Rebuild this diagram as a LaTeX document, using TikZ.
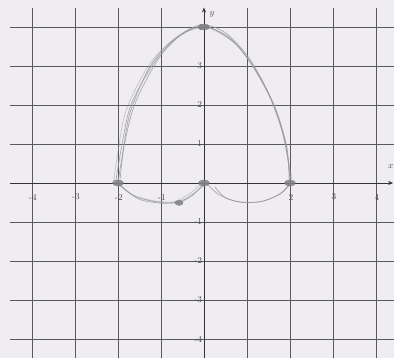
\documentclass[tikz,border=0pt]{standalone}
\usetikzlibrary{arrows.meta,shapes.geometric}
\definecolor{paper}{RGB}{239,237,241}
\begin{document}
\begin{tikzpicture}[x=43pt,y=39pt,
  gridline/.style={draw=black!65,line width=0.7pt},
  axisline/.style={draw=black!80,line width=0.9pt,-{Stealth[length=5pt,width=4pt]}},
  sketch/.style={draw=black!40,line width=0.7pt,opacity=0.8},
  blob/.style={ellipse,fill=black!50,draw=black!55,minimum width=11pt,minimum height=6pt,inner sep=0pt,opacity=0.85},
  tick/.style={font=\fontsize{9}{9}\selectfont,text=black!70,inner sep=0.5pt}]
\useasboundingbox (-4.744,-4.487) rectangle (4.419,4.692);
\fill[paper] (-4.744,-4.487) rectangle (4.419,4.692);
% grid
\foreach \i in {-4,-3,-2,-1,1,2,3,4}{
  \draw[gridline] (\i,-4.487) -- (\i,4.49);
  \draw[gridline] (-4.51,\i) -- (4.419,\i);
}
% axes
\draw[axisline] (-4.51,0) -- (4.40,0);
\draw[axisline] (0,-4.487) -- (0,4.50);
\node[font=\fontsize{9}{9}\selectfont,text=black!70] (ylab) at (0.19,4.33) {$y$};
\node[font=\fontsize{9}{9}\selectfont,text=black!70,anchor=east,inner sep=0.5pt] (xlab) at (4.419,0.41) {$x$};
% tick labels
\foreach \i in {-4,-3,-2,-1,2,3,4}{
  \node[tick] (xt\i) at (\i+0.02,-0.36) {\i};
}
\foreach \i in {-4,-3,-2,-1,1,2,3,4}{
  \node[tick,anchor=east] (yt\i) at (-0.03,\i) {\i};
}
% top arc: hand-drawn strokes
\draw[sketch] plot[smooth] coordinates {(-2.05,0.05) (-1.92,0.9) (-1.7,2) (-1.15,3.1) (-0.6,3.75) (0,4.0) (0.6,3.72) (1.1,3.05) (1.6,2.05) (1.9,1.0) (2.0,0.05)};
\draw[sketch] plot[smooth] coordinates {(-2.0,0.0) (-1.85,1.0) (-1.6,2.05) (-1.05,3.2) (-0.5,3.82) (0.05,4.02) (0.7,3.6) (1.2,2.9) (1.65,1.95) (1.93,0.9) (1.98,0.0)};
\draw[sketch] plot[smooth] coordinates {(-1.95,0.1) (-1.88,0.8) (-1.72,1.8) (-1.3,2.9) (-0.8,3.6) (-0.1,4.05) (0.5,3.85) (1.05,3.2) (1.5,2.3) (1.85,1.2) (2.02,0.1)};
\draw[sketch,opacity=0.5] plot[smooth] coordinates {(-2.1,0.05) (-2.0,0.8) (-1.8,1.9) (-1.2,3.15) (-0.4,3.9) (0.1,3.98) (0.8,3.5) (1.35,2.6) (1.75,1.6) (2.05,0.1)};
% bottom curves
\draw[sketch] plot[smooth] coordinates {(-2.0,0) (-1.6,-0.35) (-1.0,-0.5) (-0.58,-0.5) (-0.25,-0.3) (0,0)};
\draw[sketch] plot[smooth] coordinates {(-1.95,-0.05) (-1.5,-0.42) (-0.9,-0.52) (-0.45,-0.42) (-0.1,-0.15) (0.05,0)};
\draw[sketch,opacity=0.5] plot[smooth] coordinates {(-2.05,0.02) (-1.7,-0.28) (-1.2,-0.45) (-0.7,-0.48) (-0.3,-0.25) (-0.05,0.02)};
\draw[sketch] plot[smooth] coordinates {(0.25,-0.1) (0.5,-0.38) (0.9,-0.5) (1.4,-0.46) (1.8,-0.25) (2.0,0)};
\draw[sketch] plot[smooth] coordinates {(0.05,0) (0.35,-0.3) (0.8,-0.48) (1.3,-0.48) (1.75,-0.3) (2.02,-0.02)};
% blobs
\node[blob] (p1) at (-2,0) {};
\node[blob] (p2) at (0,0) {};
\node[blob] (p3) at (2,0) {};
\node[blob] (p4) at (0,4) {};
\node[blob,minimum width=8pt,minimum height=5pt] (p5) at (-0.58,-0.51) {};
\end{tikzpicture}
\end{document}
